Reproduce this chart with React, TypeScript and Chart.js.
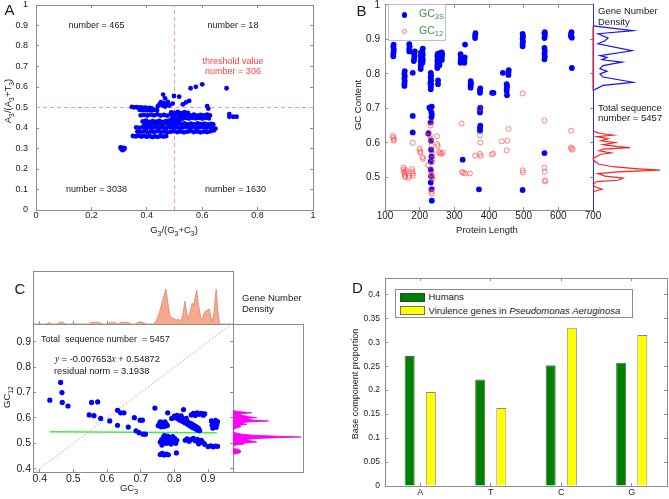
import React, { useEffect, useRef } from "react";
import { Chart, registerables } from "chart.js";

Chart.register(...registerables);

const FONT = "'Liberation Sans', Arial, Helvetica, sans-serif";
Chart.defaults.font.family = FONT;

const AXIS_COLOR = "#8c8c8c";
const TEXT = "#1a1a1a";
const BLUE = "#0000ff";
const PINK_LINE = "#ff9a9a";
const RED_CIRCLE = "rgba(255,70,70,0.75)";
const GREEN_TXT = "#3a8f4f";

// ---------------- Panel A ----------------
const A_XTICKS = [0, 0.2, 0.4, 0.6, 0.8, 1];
const A_YTICKS = [0, 0.1, 0.2, 0.3, 0.4, 0.5, 0.6, 0.7, 0.8, 0.9, 1];
const A_THRESH_V = [[0.5, 0], [0.5, 1]];
const A_THRESH_H = [[0, 0.5], [1, 0.5]];
const A_POINTS = [
  [0.305, 0.305], [0.310, 0.298], [0.314, 0.303], [0.318, 0.296], [0.312, 0.292], [0.320, 0.302], [0.307, 0.299],
  [0.346, 0.503], [0.354, 0.501], [0.362, 0.502], [0.370, 0.499], [0.378, 0.500], [0.386, 0.498], [0.394, 0.499], [0.402, 0.497], [0.410, 0.498], [0.418, 0.496],
  [0.374, 0.489], [0.383, 0.487], [0.392, 0.489], [0.401, 0.486], [0.410, 0.488], [0.419, 0.486], [0.428, 0.488], [0.437, 0.487],
  [0.440, 0.506], [0.446, 0.516], [0.451, 0.526], [0.456, 0.510], [0.461, 0.521], [0.466, 0.505], [0.471, 0.515], [0.476, 0.527], [0.481, 0.509], [0.459, 0.563], [0.466, 0.545], [0.493, 0.519],
  [0.498, 0.556], [0.517, 0.553], [0.530, 0.515], [0.541, 0.525], [0.553, 0.532], [0.558, 0.594], [0.577, 0.601], [0.600, 0.613], [0.688, 0.594], [0.618, 0.507], [0.622, 0.495], [0.698, 0.455], [0.698, 0.468], [0.712, 0.455], [0.724, 0.455],
  [0.378, 0.462], [0.390, 0.464], [0.402, 0.461], [0.414, 0.465], [0.426, 0.462], [0.438, 0.466], [0.450, 0.461], [0.462, 0.464], [0.474, 0.460], [0.486, 0.466], [0.498, 0.462], [0.510, 0.467], [0.522, 0.463], [0.534, 0.461], [0.546, 0.466], [0.558, 0.462], [0.570, 0.465], [0.582, 0.460], [0.594, 0.464], [0.606, 0.461], [0.618, 0.465], [0.628, 0.462],
  [0.488, 0.476], [0.500, 0.474], [0.512, 0.478], [0.524, 0.473], [0.536, 0.477], [0.548, 0.474],
  [0.492, 0.448], [0.504, 0.446], [0.516, 0.450], [0.528, 0.445], [0.540, 0.449], [0.552, 0.446], [0.564, 0.450], [0.576, 0.447], [0.588, 0.449], [0.600, 0.446], [0.612, 0.450], [0.624, 0.447],
  [0.385, 0.432], [0.397, 0.436], [0.409, 0.430], [0.421, 0.434], [0.433, 0.431], [0.445, 0.435], [0.457, 0.430], [0.469, 0.433], [0.481, 0.436], [0.493, 0.431], [0.505, 0.434], [0.517, 0.430],
  [0.392, 0.420], [0.404, 0.418], [0.416, 0.422], [0.428, 0.417], [0.440, 0.421], [0.452, 0.419], [0.464, 0.423], [0.476, 0.418], [0.488, 0.421], [0.500, 0.417], [0.512, 0.422], [0.524, 0.419], [0.536, 0.423], [0.548, 0.418], [0.560, 0.421], [0.572, 0.417], [0.584, 0.422], [0.596, 0.419], [0.608, 0.421], [0.620, 0.418], [0.632, 0.420], [0.640, 0.417],
  [0.362, 0.403], [0.374, 0.401], [0.386, 0.405], [0.398, 0.400], [0.410, 0.404], [0.422, 0.402], [0.434, 0.406], [0.446, 0.401], [0.458, 0.404], [0.470, 0.400], [0.482, 0.405], [0.494, 0.402], [0.506, 0.404], [0.518, 0.400], [0.530, 0.403], [0.542, 0.406], [0.554, 0.401], [0.566, 0.404], [0.578, 0.400], [0.590, 0.403], [0.602, 0.405], [0.614, 0.401], [0.626, 0.404], [0.638, 0.400], [0.648, 0.397],
  [0.366, 0.382], [0.378, 0.380], [0.390, 0.384], [0.402, 0.379], [0.414, 0.383], [0.426, 0.381], [0.438, 0.385], [0.450, 0.380], [0.462, 0.383], [0.474, 0.379], [0.486, 0.382], [0.498, 0.384], [0.510, 0.380], [0.522, 0.383], [0.534, 0.379], [0.546, 0.382], [0.558, 0.385], [0.570, 0.380], [0.582, 0.383], [0.594, 0.379], [0.606, 0.382], [0.618, 0.380], [0.630, 0.384], [0.642, 0.388],
  [0.350, 0.361], [0.360, 0.359], [0.370, 0.362], [0.380, 0.358], [0.390, 0.361], [0.400, 0.357], [0.410, 0.360], [0.420, 0.356], [0.430, 0.359], [0.440, 0.357], [0.450, 0.361], [0.460, 0.358], [0.470, 0.360],
];

// ---------------- Panel B ----------------
const B_XTICKS = [100, 200, 300, 400, 500, 600, 700];
const B_YTICKS = [0.5, 0.6, 0.7, 0.8, 0.9, 1];
// [protein length, GC3S]
const B_GC3S = [
  [124, 0.851], [124, 0.858], [125, 0.865], [125, 0.872], [124, 0.879], [125, 0.885],
  [156, 0.765], [156, 0.772], [157, 0.779], [156, 0.786], [157, 0.793], [156, 0.800], [157, 0.808],
  [170, 0.865], [170, 0.872], [171, 0.879], [170, 0.886],
  [180, 0.803], [180, 0.678], [180, 0.630],
  [183, 0.837], [184, 0.844], [185, 0.851], [184, 0.858], [186, 0.865],
  [203, 0.814], [203, 0.822], [204, 0.830], [203, 0.838], [204, 0.846], [203, 0.854], [204, 0.862],
  [208, 0.832], [209, 0.840], [208, 0.848], [209, 0.856], [208, 0.864], [209, 0.873],
  [225, 0.627], [228, 0.702], [231, 0.698], [231, 0.772], [232, 0.778],
  [232, 0.755], [232, 0.762], [233, 0.769], [233, 0.782], [232, 0.789], [233, 0.796], [232, 0.803],
  [232, 0.659], [234, 0.688], [235, 0.681], [234, 0.674], [235, 0.705],
  [233, 0.606], [233, 0.580], [234, 0.560], [232, 0.546], [232, 0.522], [233, 0.503], [232, 0.485], [234, 0.465], [235, 0.432],
  [251, 0.817], [251, 0.824], [252, 0.831], [251, 0.838], [252, 0.845], [251, 0.852], [252, 0.858],
  [253, 0.770], [253, 0.781],
  [257, 0.825], [257, 0.832], [258, 0.839], [257, 0.846], [258, 0.853], [257, 0.860],
  [264, 0.840], [264, 0.848], [265, 0.856], [264, 0.862],
  [318, 0.832], [318, 0.840], [319, 0.848], [318, 0.857],
  [329, 0.832], [329, 0.840], [330, 0.848], [331, 0.885], [324, 0.551],
  [347, 0.760], [347, 0.767], [348, 0.773], [347, 0.779],
  [360, 0.904], [360, 0.911], [361, 0.918],
  [374, 0.745], [374, 0.752], [375, 0.758], [374, 0.688], [374, 0.695], [375, 0.702], [374, 0.635], [374, 0.643], [375, 0.650], [371, 0.465],
  [409, 0.745], [413, 0.745],
  [440, 0.803], [456, 0.797], [456, 0.804], [457, 0.811],
  [451, 0.750], [451, 0.757], [452, 0.764], [451, 0.770], [452, 0.738],
  [497, 0.880], [497, 0.887], [498, 0.894], [497, 0.902], [498, 0.909], [497, 0.916], [497, 0.463],
  [560, 0.904], [561, 0.911], [560, 0.918], [561, 0.921], [560, 0.842], [561, 0.850], [560, 0.858], [561, 0.866], [560, 0.875], [560, 0.570],
  [636, 0.910], [637, 0.916], [638, 0.921], [639, 0.905], [639, 0.817],
];
// [protein length, GC12]
const B_GC12 = [
  [122, 0.620], [124, 0.615], [126, 0.610], [125, 0.606],
  [153, 0.528], [154, 0.522], [155, 0.516], [156, 0.510], [157, 0.504], [158, 0.500], [160, 0.514], [161, 0.520],
  [168, 0.498], [170, 0.504], [178, 0.524], [179, 0.517], [180, 0.511], [181, 0.505], [180, 0.600],
  [200, 0.583], [201, 0.576], [202, 0.571], [208, 0.558], [210, 0.553],
  [224, 0.535], [226, 0.630], [229, 0.622], [230, 0.659], [231, 0.650], [232, 0.612], [233, 0.605], [234, 0.592], [235, 0.575], [236, 0.566], [237, 0.553], [236, 0.543], [233, 0.520], [234, 0.510], [235, 0.505], [236, 0.500], [237, 0.496], [234, 0.458], [235, 0.452], [236, 0.468],
  [250, 0.619], [251, 0.596], [252, 0.590], [256, 0.573], [259, 0.570], [263, 0.568], [267, 0.572],
  [321, 0.656], [322, 0.515], [326, 0.513], [331, 0.511], [345, 0.511],
  [360, 0.563], [372, 0.700], [374, 0.622], [375, 0.601], [374, 0.568], [376, 0.562],
  [408, 0.566], [412, 0.569], [437, 0.604], [453, 0.606], [451, 0.578], [456, 0.640],
  [497, 0.743], [497, 0.520], [498, 0.514],
  [560, 0.664], [560, 0.528], [561, 0.516], [561, 0.491], [562, 0.488],
  [637, 0.635], [636, 0.586], [639, 0.583], [641, 0.580],
];
// [density, GC]
const B_DENS_GC3S = [
  [0, 0.937], [40, 0.923], [5, 0.914], [15, 0.902], [12, 0.894], [5, 0.885], [39, 0.865], [7, 0.851], [14, 0.846], [9, 0.839],
  [29, 0.832], [10, 0.822], [7, 0.813], [14, 0.806], [7, 0.798], [10, 0.789], [40, 0.774], [10, 0.765], [0, 0.750],
];
const B_DENS_GC12 = [
  [0, 0.632], [8, 0.626], [20, 0.621], [4, 0.617], [15, 0.611], [8, 0.605], [22, 0.600], [10, 0.594], [25, 0.588], [37, 0.585],
  [10, 0.581], [6, 0.576], [18, 0.570], [8, 0.566], [4, 0.560], [0, 0.553], [2, 0.545], [6, 0.537], [20, 0.530], [45, 0.524],
  [67, 0.520], [25, 0.515], [5, 0.510], [12, 0.503], [30, 0.497], [25, 0.491], [4, 0.487], [0, 0.480], [2, 0.472], [9, 0.465],
  [2, 0.460], [0, 0.455],
];
const B_DENS_GC12_ZERO = [[0, 0.750], [0, 0.935]];

// ---------------- Panel C ----------------
const C_XTICKS = [0.4, 0.5, 0.6, 0.7, 0.8, 0.9];
const C_YTICKS = [0.4, 0.5, 0.6, 0.7, 0.8, 0.9];
const C_POINTS = [
  [0.430, 0.670], [0.462, 0.740], [0.466, 0.700], [0.467, 0.661], [0.484, 0.647],
  [0.547, 0.612], [0.554, 0.661], [0.561, 0.609], [0.572, 0.663], [0.581, 0.598], [0.608, 0.588], [0.631, 0.630], [0.640, 0.620], [0.650, 0.620],
  [0.631, 0.571], [0.663, 0.564], [0.681, 0.601], [0.698, 0.591], [0.705, 0.591], [0.686, 0.549], [0.695, 0.542], [0.707, 0.536], [0.714, 0.536],
  [0.742, 0.639], [0.780, 0.620], [0.792, 0.598], [0.827, 0.633], [0.806, 0.462],
  [0.752, 0.570], [0.756, 0.578], [0.760, 0.565], [0.764, 0.582], [0.768, 0.572], [0.772, 0.585], [0.776, 0.576], [0.758, 0.585], [0.770, 0.566], [0.779, 0.570],
  [0.758, 0.505], [0.762, 0.515], [0.765, 0.498], [0.768, 0.525], [0.771, 0.508], [0.774, 0.518], [0.777, 0.500], [0.780, 0.528], [0.783, 0.512], [0.786, 0.522],
  [0.789, 0.503], [0.792, 0.516], [0.795, 0.526], [0.798, 0.508], [0.801, 0.519], [0.804, 0.500], [0.807, 0.512], [0.770, 0.530], [0.790, 0.497], [0.763, 0.493],
  [0.758, 0.456], [0.764, 0.460], [0.770, 0.454], [0.776, 0.458], [0.782, 0.455],
  [0.800, 0.607], [0.805, 0.600], [0.808, 0.610], [0.812, 0.596], [0.815, 0.604], [0.818, 0.590], [0.822, 0.600], [0.826, 0.585], [0.829, 0.594], [0.832, 0.580],
  [0.836, 0.588], [0.840, 0.574], [0.843, 0.582], [0.847, 0.568], [0.850, 0.578], [0.854, 0.562], [0.857, 0.572], [0.861, 0.558], [0.864, 0.566], [0.868, 0.552],
  [0.871, 0.560], [0.875, 0.550], [0.820, 0.608], [0.835, 0.598],
  [0.850, 0.612], [0.856, 0.618], [0.862, 0.610], [0.868, 0.620], [0.874, 0.614], [0.880, 0.618], [0.886, 0.611], [0.890, 0.616],
  [0.910, 0.588], [0.916, 0.585], [0.922, 0.590], [0.928, 0.586], [0.912, 0.572], [0.920, 0.568], [0.926, 0.575], [0.914, 0.560], [0.924, 0.563],
  [0.832, 0.512], [0.838, 0.518], [0.844, 0.508], [0.850, 0.515], [0.856, 0.520], [0.862, 0.510], [0.868, 0.516], [0.874, 0.505], [0.880, 0.512], [0.886, 0.502], [0.872, 0.498], [0.890, 0.496],
  [0.900, 0.487], [0.908, 0.490], [0.915, 0.486], [0.922, 0.489], [0.928, 0.488],
];
const C_FIT_LINE = [[0.43, 0.5454], [0.926, 0.5416]];
const C_DIAGONAL = [[0.38, 0.38], [0.98, 0.98]];
// [GC3, density]
const C_TOP_DENS = [
  [0.38, 0], [0.42, 0], [0.428, 1.5], [0.436, 0], [0.452, 0], [0.458, 1.8], [0.468, 1.8], [0.476, 0], [0.545, 0], [0.552, 1.5],
  [0.566, 1.8], [0.578, 1.5], [0.586, 0], [0.602, 0], [0.608, 1.5], [0.62, 1.8], [0.632, 0], [0.64, 1.5], [0.652, 1.8], [0.664, 1.2],
  [0.672, 0], [0.684, 0], [0.69, 1.5], [0.705, 1.8], [0.716, 0], [0.738, 0], [0.746, 3], [0.756, 12], [0.766, 25], [0.775, 35],
  [0.781, 20], [0.787, 8], [0.794, 6], [0.800, 5], [0.806, 4], [0.811, 5], [0.816, 3], [0.821, 5], [0.826, 11], [0.831, 23],
  [0.836, 12], [0.841, 5], [0.847, 13], [0.853, 21], [0.858, 19], [0.866, 34], [0.872, 18], [0.878, 7], [0.882, 4], [0.887, 10],
  [0.892, 13], [0.898, 14], [0.904, 15], [0.908, 7], [0.912, 2], [0.917, 10], [0.924, 35], [0.929, 14], [0.934, 0], [0.974, 0],
];
// [density, GC12]
const C_RIGHT_DENS = [
  [0, 0.457], [7, 0.462], [8, 0.470], [6, 0.476], [0, 0.480], [0, 0.488], [3, 0.493], [11, 0.497], [10, 0.500], [24, 0.505],
  [18, 0.510], [12, 0.515], [30, 0.520], [69, 0.525], [45, 0.528], [20, 0.532], [9, 0.536], [4, 0.540], [0, 0.545], [0, 0.552],
  [3, 0.560], [8, 0.565], [6, 0.570], [14, 0.575], [8, 0.579], [15, 0.584], [36, 0.588], [20, 0.592], [12, 0.597], [24, 0.601],
  [16, 0.605], [10, 0.610], [6, 0.616], [19, 0.620], [3, 0.626], [0, 0.630],
];

// ---------------- Panel D ----------------
const D_CATEGORIES = ["A", "T", "C", "G"];
const D_HUMANS = [0.271, 0.222, 0.252, 0.257];
const D_VIRULENCE = [0.196, 0.163, 0.330, 0.315];
const D_YTICKS = [0, 0.05, 0.1, 0.15, 0.2, 0.25, 0.3, 0.35, 0.4];
const D_XMARKS = [0, 1, 2, 3];

// ---------------- helpers ----------------
const fmt = (v: number) => String(parseFloat(v.toFixed(3)));
const pts = (arr: number[][]) => arr.map((p) => ({ x: p[0], y: p[1] }));

function axis(o: any) {
  const horiz = o.pos === "top" || o.pos === "bottom";
  const ticks: any = {
    display: !!o.labels,
    padding: o.pad ?? 6,
    font: { size: o.font ?? 10, family: FONT },
    color: TEXT,
    autoSkip: false,
    maxRotation: 0,
    minRotation: 0,
  };
  if (o.type !== "category") ticks.callback = (v: any) => fmt(Number(v));
  const cfg: any = {
    type: o.type ?? "linear",
    position: o.pos,
    display: o.display ?? true,
    offset: !!o.offset,
    border: {
      display: o.border !== false,
      color: typeof o.border === "string" ? o.border : AXIS_COLOR,
      width: 1,
    },
    grid: {
      display: !!o.marks,
      drawOnChartArea: false,
      drawTicks: true,
      tickLength: -3,
      tickWidth: 1,
      color: AXIS_COLOR,
      offset: false,
    },
    ticks,
    afterFit: (s: any) => {
      if (horiz) s.height = o.size;
      else s.width = o.size;
      s.paddingLeft = 0;
      s.paddingRight = 0;
      s.paddingTop = 0;
      s.paddingBottom = 0;
    },
  };
  if (o.min !== undefined) cfg.min = o.min;
  if (o.max !== undefined) cfg.max = o.max;
  if (o.marks && o.type !== "category") {
    cfg.afterBuildTicks = (s: any) => {
      s.ticks = o.marks.map((v: number) => ({ value: v }));
    };
  }
  return cfg;
}

const baseOptions = (padding: any) => ({
  animation: false as const,
  responsive: false,
  maintainAspectRatio: false,
  events: [] as any[],
  layout: { padding },
  plugins: { legend: { display: false }, tooltip: { enabled: false } },
});

// canvas rectangles
const RECT_A = { left: 0, top: 0, width: 330, height: 240 };
const RECT_B = { left: 330, top: 0, width: 280, height: 240 };
const RECT_BD = { left: 590, top: 0, width: 79, height: 240 };
const RECT_CT = { left: 30, top: 265, width: 210, height: 62 };
const RECT_C = { left: 0, top: 318, width: 250, height: 181 };
const RECT_CR = { left: 230, top: 318, width: 80, height: 160 };
const RECT_D = { left: 330, top: 270, width: 339, height: 229 };
const RECTS = [RECT_A, RECT_B, RECT_BD, RECT_CT, RECT_C, RECT_CR, RECT_D];

const Sub = ({ children }: any) => (
  <sub style={{ fontSize: "0.72em", verticalAlign: "-0.35em", lineHeight: 0 }}>{children}</sub>
);

const Txt = ({ x, y, size = 9, color = TEXT, align = "center", rotate = false, style = {}, children }: any) => (
  <div
    style={{
      position: "absolute",
      left: x,
      top: y,
      transform: `translate(${align === "center" ? "-50%" : "0"}, -50%)${rotate ? " rotate(-90deg)" : ""}`,
      fontSize: size,
      color,
      whiteSpace: "pre",
      lineHeight: 1,
      fontFamily: FONT,
      ...style,
    }}
  >
    {children}
  </div>
);

export default function App() {
  const refs = useRef<(HTMLCanvasElement | null)[]>([]);

  useEffect(() => {
    const c = refs.current;
    const charts: Chart[] = [];

    // Panel A
    charts.push(
      new Chart(c[0] as HTMLCanvasElement, {
        type: "scatter",
        data: {
          datasets: [
            { data: pts(A_POINTS), pointRadius: 2.4, pointBackgroundColor: BLUE, pointBorderColor: BLUE, pointBorderWidth: 0 },
            { data: pts(A_THRESH_V), showLine: true, pointRadius: 0, borderColor: PINK_LINE, borderWidth: 1, borderDash: [4, 3] },
            { data: pts(A_THRESH_H), showLine: true, pointRadius: 0, borderColor: PINK_LINE, borderWidth: 1, borderDash: [4, 3] },
          ],
        } as any,
        options: {
          ...baseOptions({ top: 5, right: 17, left: 0, bottom: 0 }),
          scales: {
            x: axis({ pos: "bottom", min: 0, max: 1, size: 30, marks: A_XTICKS, labels: true, pad: 3.5, font: 9 }),
            y: axis({ pos: "left", min: 0, max: 1, size: 36, marks: A_YTICKS, labels: true, pad: 11, font: 9 }),
            x2: axis({ pos: "top", min: 0, max: 1, size: 0, marks: A_XTICKS }),
            y2: axis({ pos: "right", min: 0, max: 1, size: 0, marks: A_YTICKS }),
          },
        } as any,
      })
    );

    // Panel B main
    charts.push(
      new Chart(c[1] as HTMLCanvasElement, {
        type: "scatter",
        data: {
          datasets: [
            { data: pts(B_GC12), pointRadius: 2.5, pointBackgroundColor: "rgba(0,0,0,0)", pointBorderColor: RED_CIRCLE, pointBorderWidth: 0.9 },
            { data: pts(B_GC3S), pointRadius: 2.9, pointBackgroundColor: BLUE, pointBorderColor: BLUE, pointBorderWidth: 0 },
          ],
        } as any,
        options: {
          ...baseOptions({ top: 4, right: 17, left: 0, bottom: 0 }),
          scales: {
            x: axis({ pos: "bottom", min: 100, max: 700, size: 30, marks: B_XTICKS, labels: true, pad: 3, font: 10 }),
            y: axis({ pos: "left", min: 0.405, max: 1, size: 55, marks: B_YTICKS, labels: true, pad: 8, font: 10 }),
            x2: axis({ pos: "top", min: 100, max: 700, size: 0, marks: B_XTICKS }),
            y2: axis({ pos: "right", min: 0.405, max: 1, size: 0, marks: B_YTICKS, border: "#2a2aff" }),
          },
        } as any,
      })
    );

    // Panel B density
    charts.push(
      new Chart(c[2] as HTMLCanvasElement, {
        type: "scatter",
        data: {
          datasets: [
            { data: pts(B_DENS_GC12_ZERO), showLine: true, pointRadius: 0, borderColor: "#ff2020", borderWidth: 1.2, clip: false },
            { data: pts(B_DENS_GC3S), showLine: true, pointRadius: 0, borderColor: "#1010ff", borderWidth: 1.2, clip: false },
            { data: pts(B_DENS_GC12), showLine: true, pointRadius: 0, borderColor: "#ff2020", borderWidth: 1.2, clip: false },
          ],
        } as any,
        options: {
          ...baseOptions({ top: 4, right: 2, left: 0, bottom: 30 }),
          scales: {
            x: axis({ pos: "bottom", min: 0, max: 74, size: 0, border: false, display: false }),
            y: axis({ pos: "left", min: 0.405, max: 1, size: 3, border: false }),
          },
        } as any,
      })
    );

    // Panel C top density
    charts.push(
      new Chart(c[3] as HTMLCanvasElement, {
        type: "line",
        data: {
          datasets: [
            {
              data: pts(C_TOP_DENS),
              pointRadius: 0,
              borderColor: "#d9876c",
              borderWidth: 0.8,
              backgroundColor: "#f7a98b",
              fill: "origin",
              tension: 0,
            },
          ],
        } as any,
        options: {
          ...baseOptions({ top: 6, right: 7, left: 0, bottom: 0 }),
          scales: {
            x: axis({ pos: "bottom", min: 0.38, max: 0.974, size: 3, marks: C_XTICKS }),
            y: axis({ pos: "left", min: 0, max: 53, size: 3 }),
            x2: axis({ pos: "top", min: 0.38, max: 0.974, size: 0 }),
            y2: axis({ pos: "right", min: 0, max: 53, size: 0 }),
          },
        } as any,
      })
    );

    // Panel C main
    charts.push(
      new Chart(c[4] as HTMLCanvasElement, {
        type: "scatter",
        data: {
          datasets: [
            { data: pts(C_POINTS), pointRadius: 2.6, pointBackgroundColor: BLUE, pointBorderColor: BLUE, pointBorderWidth: 0 },
            { data: pts(C_FIT_LINE), showLine: true, pointRadius: 0, borderColor: "#3cf03c", borderWidth: 1.6 },
            { data: pts(C_DIAGONAL), showLine: true, pointRadius: 0, borderColor: PINK_LINE, borderWidth: 1, borderDash: [2, 2] },
          ],
        } as any,
        options: {
          ...baseOptions({ top: 6, right: 17, left: 0, bottom: 0 }),
          scales: {
            x: axis({ pos: "bottom", min: 0.38, max: 0.974, size: 27, marks: C_XTICKS, labels: true, pad: 4, font: 10.5 }),
            y: axis({ pos: "left", min: 0.387, max: 0.97, size: 33, marks: C_YTICKS, labels: true, pad: 5, font: 10.5 }),
            x2: axis({ pos: "top", min: 0.38, max: 0.974, size: 0 }),
            y2: axis({ pos: "right", min: 0.387, max: 0.97, size: 0, marks: C_YTICKS }),
          },
        } as any,
      })
    );

    // Panel C right density
    charts.push(
      new Chart(c[5] as HTMLCanvasElement, {
        type: "line",
        data: {
          datasets: [
            {
              data: pts(C_RIGHT_DENS),
              pointRadius: 0,
              borderColor: "#e000e0",
              borderWidth: 0.8,
              backgroundColor: "#ff00ff",
              fill: "origin",
              tension: 0,
            },
          ],
        } as any,
        options: {
          ...baseOptions({ top: 6, right: 7, left: 0, bottom: 0 }),
          indexAxis: "y",
          scales: {
            x: axis({ pos: "bottom", min: 0, max: 71, size: 6 }),
            y: axis({ pos: "left", min: 0.387, max: 0.97, size: 3, border: false }),
            x2: axis({ pos: "top", min: 0, max: 71, size: 0 }),
            y2: axis({ pos: "right", min: 0.387, max: 0.97, size: 0 }),
          },
        } as any,
      })
    );

    // Panel D
    charts.push(
      new Chart(c[6] as HTMLCanvasElement, {
        type: "bar",
        data: {
          labels: D_CATEGORIES,
          datasets: [
            { data: D_HUMANS, backgroundColor: "#008000", borderColor: "rgba(40,70,40,0.8)", borderWidth: 1, categoryPercentage: 0.6, barPercentage: 0.476 },
            { data: D_VIRULENCE, backgroundColor: "#ffff00", borderColor: "rgba(110,110,90,0.8)", borderWidth: 1, categoryPercentage: 0.6, barPercentage: 0.476 },
          ],
        } as any,
        options: {
          ...baseOptions({ top: 8, right: 2, left: 0, bottom: 0 }),
          scales: {
            x: axis({ pos: "bottom", type: "category", offset: true, size: 13, marks: true, labels: true, pad: 4.3, font: 9 }),
            y: axis({ pos: "left", min: 0, max: 0.434, size: 55, marks: D_YTICKS, labels: true, pad: 8, font: 8.5 }),
            x2: axis({ pos: "top", min: -0.5, max: 3.5, size: 0, marks: D_XMARKS }),
            y2: axis({ pos: "right", min: 0, max: 0.434, size: 0, marks: D_YTICKS }),
          },
        } as any,
      })
    );

    return () => {
      charts.forEach((ch) => ch.destroy());
    };
  }, []);

  return (
    <div
      style={{
        position: "absolute",
        left: 0,
        top: 0,
        width: 669,
        height: 499,
        overflow: "hidden",
        background: "#ffffff",
        fontFamily: FONT,
      }}
    >
      {RECTS.map((r, i) => (
        <canvas
          key={i}
          ref={(el) => {
            refs.current[i] = el;
          }}
          width={r.width}
          height={r.height}
          style={{ position: "absolute", left: r.left, top: r.top, width: r.width, height: r.height }}
        />
      ))}

      {/* Panel A texts */}
      <Txt x={9.5} y={9} size={15}>A</Txt>
      <Txt x={96.5} y={24.5}>number = 465</Txt>
      <Txt x={233} y={24.5}>number = 18</Txt>
      <Txt x={233} y={60.8} color="#ff3c3c">threshold value</Txt>
      <Txt x={233} y={70.8} color="#ff3c3c">number = 306</Txt>
      <Txt x={96.5} y={189}>number = 3038</Txt>
      <Txt x={235.5} y={189}>number = 1630</Txt>
      <Txt x={174} y={229.5} size={9.5}>
        G<Sub>3</Sub>/(G<Sub>3</Sub>+C<Sub>3</Sub>)
      </Txt>
      <Txt x={7.5} y={101} size={9.5} rotate>
        A<Sub>3</Sub>/(A<Sub>3</Sub>+T<Sub>3</Sub>)
      </Txt>

      {/* Panel B texts */}
      <Txt x={361.5} y={9.5} size={15}>B</Txt>
      <div
        style={{
          position: "absolute",
          left: 387.5,
          top: 4,
          width: 58,
          height: 37,
          border: "1px solid #c9b8e2",
          background: "#ffffff",
          boxSizing: "border-box",
        }}
      />
      <div style={{ position: "absolute", left: 401.5, top: 12.3, width: 5.4, height: 5.4, borderRadius: "50%", background: BLUE }} />
      <div
        style={{
          position: "absolute",
          left: 401.8,
          top: 29.2,
          width: 5,
          height: 5,
          borderRadius: "50%",
          border: `0.9px solid ${RED_CIRCLE}`,
          boxSizing: "border-box",
        }}
      />
      <Txt x={419} y={13} size={10.5} align="left" color={GREEN_TXT}>
        GC<Sub>3S</Sub>
      </Txt>
      <Txt x={419} y={30} size={10.5} align="left" color={GREEN_TXT}>
        GC<Sub>12</Sub>
      </Txt>
      <Txt x={598} y={11} size={9.5} align="left">Gene Number</Txt>
      <Txt x={598} y={21.7} size={9.5} align="left">Density</Txt>
      <Txt x={598} y={107.5} size={9.5} align="left">Total sequence</Txt>
      <Txt x={598} y={118} size={9.5} align="left">number = 5457</Txt>
      <Txt x={487} y={229.5} size={9.5}>Protein Length</Txt>
      <Txt x={358} y={105} size={9.5} rotate>GC Content</Txt>

      {/* Panel C texts */}
      <Txt x={20} y={287.5} size={15}>C</Txt>
      <Txt x={242} y={297.5} size={9.5} align="left">Gene Number</Txt>
      <Txt x={242} y={308.5} size={9.5} align="left">Density</Txt>
      <Txt x={41} y={339} size={9} align="left">{"Total  sequence number  = 5457"}</Txt>
      <Txt x={55} y={360} size={9.3} align="left">
        <span style={{ fontFamily: "'Liberation Serif', 'DejaVu Serif', serif", fontStyle: "italic" }}>y</span>
        {" = -0.007653"}
        <span style={{ fontFamily: "'Liberation Serif', 'DejaVu Serif', serif", fontStyle: "italic" }}>x</span>
        {" + 0.54872"}
      </Txt>
      <Txt x={54} y={371.5} size={9.3} align="left">residual norm = 3.1938</Txt>
      <Txt x={129} y={488} size={9.5}>
        GC<Sub>3</Sub>
      </Txt>
      <Txt x={7} y={397} size={9.5} rotate>
        GC<Sub>12</Sub>
      </Txt>

      {/* Panel D texts */}
      <Txt x={357.5} y={287} size={15}>D</Txt>
      <div
        style={{
          position: "absolute",
          left: 395,
          top: 289.3,
          width: 238,
          height: 29,
          border: "1px solid #8c8c8c",
          background: "#ffffff",
          boxSizing: "border-box",
        }}
      />
      <div
        style={{
          position: "absolute",
          left: 400,
          top: 292.5,
          width: 25,
          height: 9,
          background: "#008000",
          border: "1px solid #2a4a2a",
          boxSizing: "border-box",
        }}
      />
      <div
        style={{
          position: "absolute",
          left: 400,
          top: 305.5,
          width: 25,
          height: 9.5,
          background: "#ffff00",
          border: "1px solid #707060",
          boxSizing: "border-box",
        }}
      />
      <Txt x={428.5} y={297} size={9.5} align="left">Humans</Txt>
      <Txt x={428.5} y={310.5} size={9.5} align="left">
        Virulence genes in <i>Pseudomonas Aeruginosa</i>
      </Txt>
      <Txt x={354.5} y={384} size={9} rotate>Base component proportion</Txt>
    </div>
  );
}
